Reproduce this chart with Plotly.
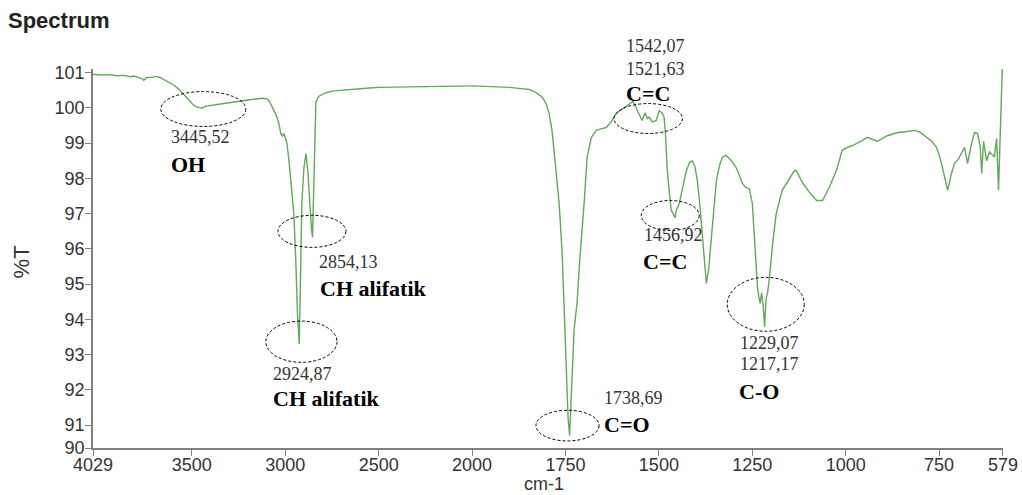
import plotly.graph_objects as go

# ---------------- data ----------------
WAVENUMBER = [
    4029, 3990, 3945, 3900, 3864, 3830, 3811, 3780, 3768, 3757, 3741, 3710, 3693, 3670,
    3650, 3620, 3596, 3570, 3554, 3530, 3516, 3495, 3479, 3462, 3445, 3430, 3409, 3370,
    3329, 3290, 3248, 3200, 3168, 3140, 3125, 3100, 3087, 3075, 3061, 3045, 3034, 3023,
    3015, 3007, 2998, 2991, 2980, 2970, 2962, 2954, 2943, 2935, 2925, 2918, 2911, 2900,
    2889, 2879, 2868, 2860, 2854, 2849, 2843, 2836, 2822, 2800, 2782, 2740, 2700, 2650,
    2605, 2550, 2498, 2400, 2300, 2200, 2100, 2000,
    1950, 1928, 1900, 1874, 1847, 1829, 1812, 1802, 1794, 1786, 1778, 1767, 1759, 1754,
    1748, 1743, 1739, 1735, 1732, 1727, 1719, 1711, 1700, 1692, 1681, 1668, 1655, 1641,
    1628, 1614, 1600, 1593, 1579, 1569, 1561, 1553, 1545, 1537, 1531, 1526, 1518, 1507,
    1499, 1491, 1486, 1482, 1478, 1472, 1467, 1462, 1457, 1453, 1445, 1435, 1427, 1418,
    1411, 1404, 1397, 1390, 1384, 1378, 1373, 1367, 1360, 1353, 1346, 1338, 1330, 1320,
    1306, 1293, 1285, 1277, 1268, 1258, 1250, 1245, 1239, 1236, 1232, 1229, 1225, 1221,
    1217, 1213, 1209, 1204, 1195, 1186, 1170, 1151, 1137, 1132, 1124, 1116, 1097, 1078,
    1062, 1044, 1025, 1009, 995, 982, 960, 942, 928, 915, 890, 861, 840, 816, 800, 784,
    770, 757, 748, 741, 734, 727, 718, 709, 698, 690, 682, 674, 668, 663, 655, 647, 640,
    636, 631, 623, 615, 610, 602, 596, 591, 581, 579,
]
TRANSMITTANCE = [
    100.95, 100.93, 100.94, 100.91, 100.92, 100.88, 100.90, 100.86, 100.83, 100.78, 100.86,
    100.87, 100.89, 100.86, 100.80, 100.72, 100.64, 100.53, 100.43, 100.30, 100.22, 100.10,
    100.03, 100.01, 99.99, 100.04, 100.06, 100.09, 100.12, 100.15, 100.19, 100.22, 100.24,
    100.26, 100.27, 100.26, 100.20, 100.08, 99.92, 99.75, 99.55, 99.25, 99.20, 99.27, 99.12,
    99.00, 98.50, 97.86, 97.40, 97.00, 95.60, 94.20, 93.30, 95.20, 97.30, 98.30, 98.70,
    98.20, 97.10, 96.60, 96.33, 97.50, 99.30, 100.15, 100.32, 100.38, 100.43, 100.48,
    100.50, 100.53, 100.55, 100.56, 100.58, 100.59, 100.60, 100.61, 100.62, 100.62,
    100.61, 100.60, 100.58, 100.55, 100.52, 100.43, 100.30, 100.12, 99.85, 99.36, 98.50,
    97.30, 95.90, 94.45, 92.60, 91.20, 90.70, 91.70, 92.50, 93.70, 94.46, 95.80, 97.30,
    98.60, 99.15, 99.36, 99.40, 99.44, 99.60, 99.84, 99.95, 100.00, 100.12, 100.18, 100.00,
    99.80, 99.64, 99.85, 99.70, 99.73, 99.60, 99.64, 99.92, 99.85, 99.73, 99.20, 98.30,
    97.60, 97.10, 97.00, 96.88, 97.10, 97.30, 97.80, 98.20, 98.45, 98.50, 98.35, 97.94,
    97.20, 96.33, 95.50, 95.02, 95.40, 96.15, 97.10, 97.94, 98.35, 98.60, 98.65, 98.50,
    98.30, 98.10, 97.86, 97.75, 97.70, 97.30, 96.52, 95.30, 94.90, 94.60, 94.45, 94.75,
    94.40, 93.78, 94.60, 94.75, 95.20, 96.20, 97.00, 97.66, 98.00, 98.22, 98.22, 98.05,
    97.88, 97.60, 97.37, 97.37, 97.74, 98.22, 98.80, 98.88, 98.93, 99.05, 99.16, 99.10,
    99.05, 99.20, 99.30, 99.32, 99.36, 99.30, 99.16, 99.05, 98.88, 98.60, 98.30, 97.95,
    97.66, 98.10, 98.42, 98.55, 98.70, 98.88, 98.42, 98.80, 99.00, 99.30, 99.27, 98.90,
    98.14, 99.05, 98.50, 98.75, 98.70, 98.60, 99.13, 97.66, 101.10, 100.95,
]

Y_TICKVALS = [90.35, 91, 92, 93, 94, 95, 96, 97, 98, 99, 100, 101]
Y_TICKTEXT = ["90", "91", "92", "93", "94", "95", "96", "97", "98", "99", "100", "101"]
X1_TICKS = [4029, 3500, 3000, 2500, 2000]
X2_TICKS = [1750, 1500, 1250, 1000, 750, 579]

# peak markers
ELLIPSES = [  # axis, x0, x1, y0, y1
    ("x", 3666, 3211, 99.47, 100.46),
    ("x", 3039, 2675, 96.04, 96.95),
    ("x", 3104, 2723, 92.78, 93.95),
    ("x2", 1829, 1660, 90.55, 91.42),
    ("x2", 1620, 1437, 99.27, 100.12),
    ("x2", 1547, 1392, 96.52, 97.37),
    ("x2", 1317, 1111, 93.66, 95.19),
]
NUM_LABELS = [  # axis, x, yref, y, text
    ("x", 3623, "y", 99.16, "3445,52"),
    ("x", 2830, "y", 95.62, "2854,13"),
    ("x", 3077, "y", 92.44, "2924,87"),
    ("x2", 1652, "y", 91.76, "1738,69"),
    ("x2", 1593, "paper", 1.062, "1542,07"),
    ("x2", 1593, "paper", 1.001, "1521,63"),
    ("x2", 1545, "y", 96.38, "1456,92"),
    ("x2", 1287, "y", 93.32, "1229,07"),
    ("x2", 1287, "y", 92.73, "1217,17"),
]
GROUP_LABELS = [
    ("x", 3623, 98.39, "OH"),
    ("x", 2825, 94.88, "CH alifatik"),
    ("x", 3077, 91.76, "CH alifatik"),
    ("x2", 1652, 91.03, "C=O"),
    ("x2", 1593, 100.41, "C=C"),
    ("x2", 1547, 95.65, "C=C"),
    ("x2", 1290, 91.96, "C-O"),
]

SPLIT = 2000
X_MAX, X_MIN = 4029, 579
EXPAND = 2.0  # region below 2000 cm-1 is drawn twice as wide
Y_RANGE = [90.35, 101.1]

# ---------------- figure ----------------
hi = [(w, t) for w, t in zip(WAVENUMBER, TRANSMITTANCE) if w >= SPLIT]
lo = [(w, t) for w, t in zip(WAVENUMBER, TRANSMITTANCE) if w <= SPLIT]

GREEN = "#62a85a"
fig = go.Figure()
fig.add_trace(go.Scatter(x=[p[0] for p in hi], y=[p[1] for p in hi], mode="lines",
                         line=dict(color=GREEN, width=1.4), xaxis="x", yaxis="y",
                         hoverinfo="x+y"))
fig.add_trace(go.Scatter(x=[p[0] for p in lo], y=[p[1] for p in lo], mode="lines",
                         line=dict(color=GREEN, width=1.4), xaxis="x2", yaxis="y",
                         hoverinfo="x+y"))

w1 = X_MAX - SPLIT
w2 = (SPLIT - X_MIN) * EXPAND
f = w1 / (w1 + w2)

AXC = "#808080"
TICKFONT = dict(family="Liberation Sans, Arial", size=18, color="#333333")
common = dict(showline=True, linecolor=AXC, linewidth=1.5, ticks="outside", ticklen=6,
              tickcolor=AXC, tickwidth=1.2, showgrid=False, zeroline=False,
              tickfont=TICKFONT, anchor="y", fixedrange=True, automargin=False,
              ticklabelstandoff=-6)

fig.update_layout(
    width=1022, height=495,
    margin=dict(l=93, r=19, t=69, b=47),
    paper_bgcolor="white", plot_bgcolor="white",
    showlegend=False,
    xaxis=dict(domain=[0, f], range=[X_MAX, SPLIT], tickmode="array",
               tickvals=X1_TICKS, ticktext=[str(v) for v in X1_TICKS], **common),
    xaxis2=dict(domain=[f, 1], range=[SPLIT, X_MIN], tickmode="array",
                tickvals=X2_TICKS, ticktext=[str(v) for v in X2_TICKS], **common),
    yaxis=dict(range=Y_RANGE, tickmode="array", tickvals=Y_TICKVALS, ticktext=Y_TICKTEXT,
               showline=True, linecolor=AXC, linewidth=1.5, ticks="outside", ticklen=6,
               tickcolor=AXC, tickwidth=1.2, showgrid=False, zeroline=False,
               tickfont=TICKFONT, anchor="x", fixedrange=True, automargin=False,
               ticklabelstandoff=-3),
)

shapes = []
for ax, x0, x1, y0, y1 in ELLIPSES:
    shapes.append(dict(type="circle", xref=ax, yref="y", x0=x0, x1=x1, y0=y0, y1=y1,
                       line=dict(color="black", width=1, dash="3px,2px")))
fig.update_layout(shapes=shapes)

ann = []
for ax, x, yref, y, txt in NUM_LABELS:
    ann.append(dict(xref=ax, yref=yref, x=x, y=y, text=txt, showarrow=False,
                    xanchor="left", yanchor="middle",
                    font=dict(family="Liberation Serif, Times New Roman", size=18,
                              color="#333333")))
for ax, x, y, txt in GROUP_LABELS:
    ann.append(dict(xref=ax, yref="y", x=x, y=y, text="<b>" + txt + "</b>", showarrow=False,
                    xanchor="left", yanchor="middle",
                    font=dict(family="Liberation Serif, Times New Roman", size=22,
                              color="black")))
# axis titles
ann.append(dict(xref="paper", yref="paper", x=-0.079, y=0.49, text="%T", textangle=-90,
                showarrow=False, xanchor="center", yanchor="middle",
                font=dict(family="Liberation Sans, Arial", size=22, color="#333333")))
ann.append(dict(xref="paper", yref="paper", x=0.496, y=-0.095, text="cm-1",
                showarrow=False, xanchor="center", yanchor="middle", borderpad=0,
                font=dict(family="Liberation Sans, Arial", size=18, color="#333333")))
fig.update_layout(annotations=ann)
fig.update_layout(title=dict(text="<b>Spectrum</b>", xref="container", yref="container",
                             x=8 / 1022, y=1 - 20 / 495, xanchor="left", yanchor="middle",
                             font=dict(family="Liberation Sans, Arial", size=22,
                                       color="#222222")))

fig.write_html("out.html")
